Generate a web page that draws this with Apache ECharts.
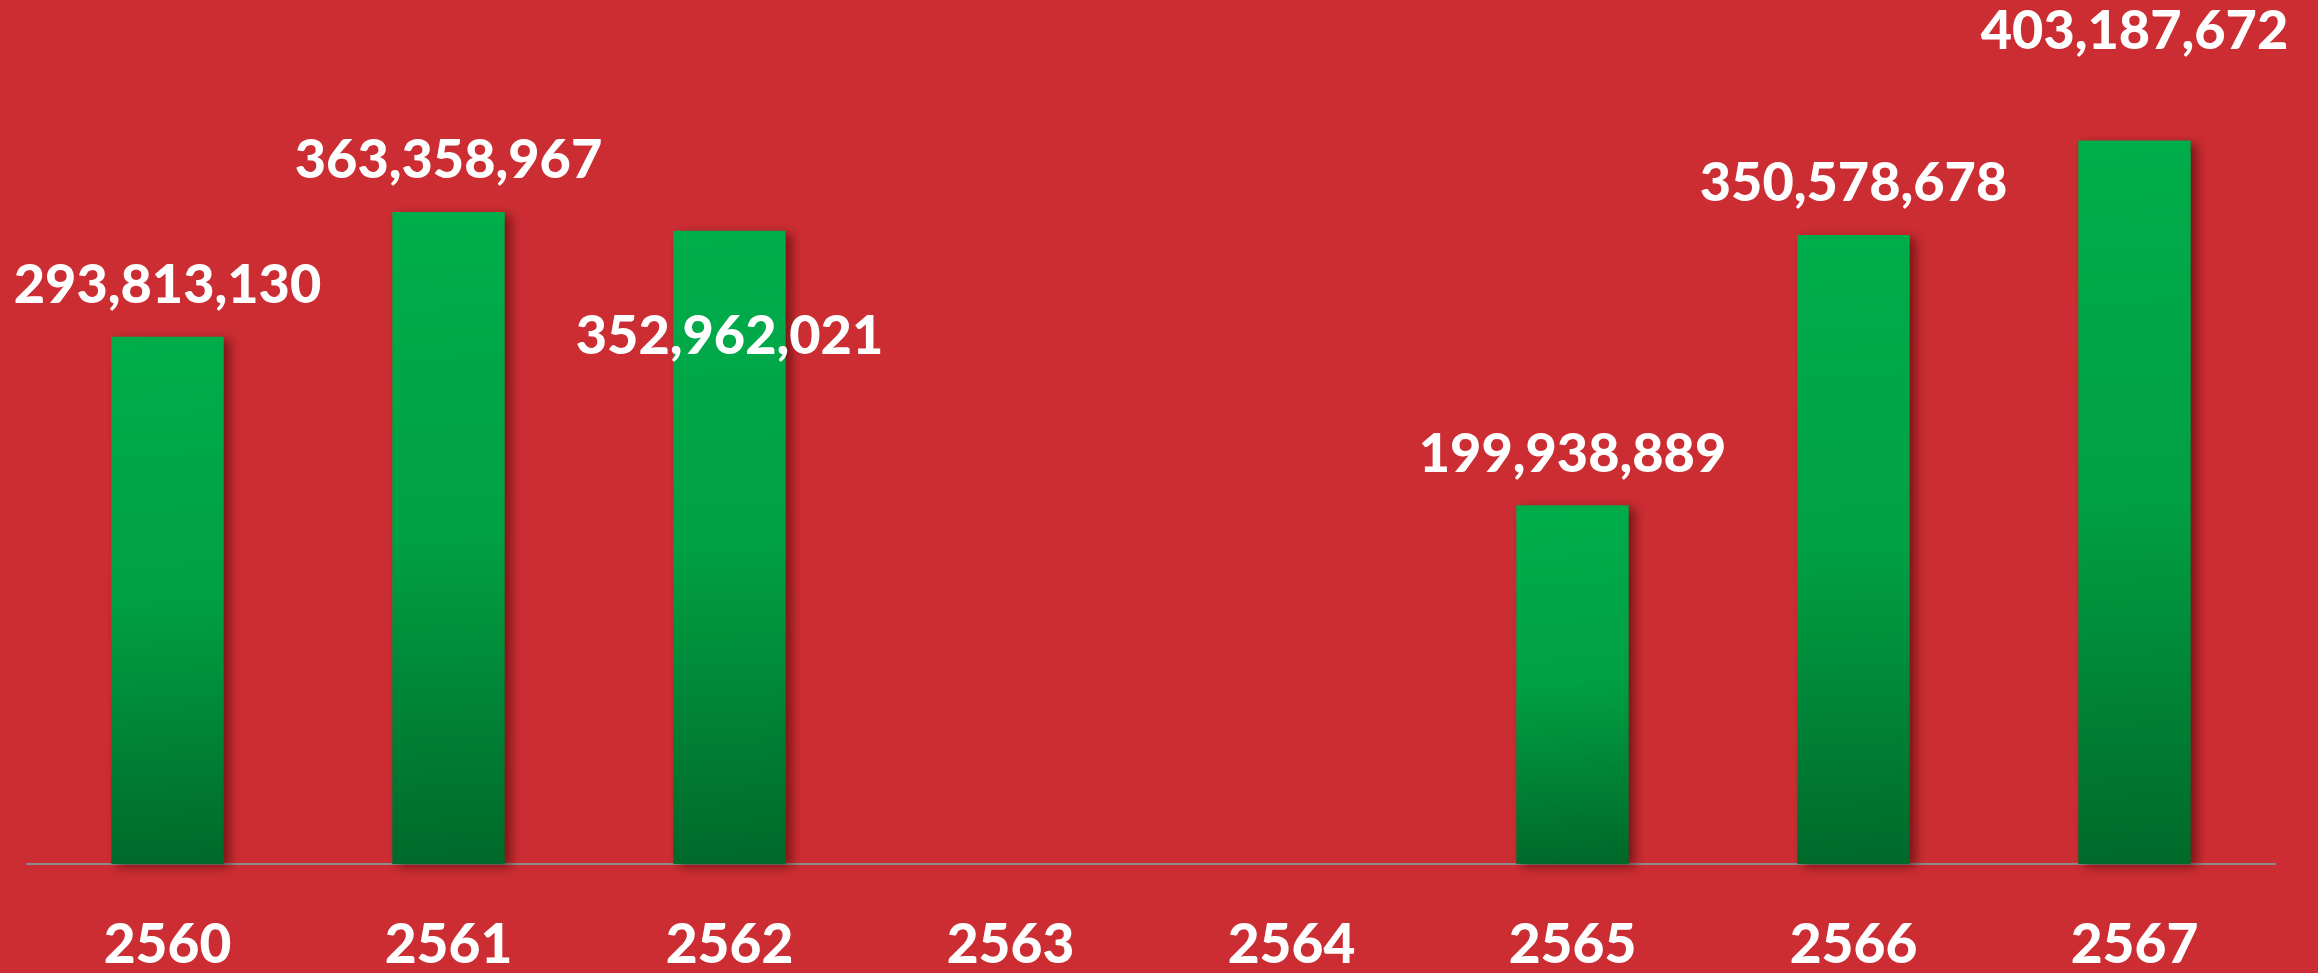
<!DOCTYPE html>
<html>
<head>
<meta charset="utf-8">
<script src="https://cdn.jsdelivr.net/npm/echarts@6/dist/echarts.min.js"></script>
<style>
  html, body { margin: 0; padding: 0; background: #CB2D32; }
  #chart { width: 2318px; height: 973px; }
</style>
</head>
<body>
<div id="chart"></div>
<script>
const years = ['2560', '2561', '2562', '2563', '2564', '2565', '2566', '2567'];
const amounts = [293813130, 363358967, 352962021, null, null, 199938889, 350578678, 403187672];

// label placement tweaks per bar (the reference puts a couple of labels off the usual spot)
const labelOffsets = [[0, 0], [0, 0], [0, 157], [0, 0], [0, 0], [0, 0], [0, 0], [0, -58]];

const fmt = v => v.toLocaleString('en-US');

const chart = echarts.init(document.getElementById('chart'));

const barData = amounts.map((v, i) => ({
  value: v,
  label: { offset: labelOffsets[i] }
}));

const option = {
  backgroundColor: '#CB2D32',
  animation: false,
  grid: {
    left: 27,
    right: 43,
    top: 0,
    bottom: 107,
    containLabel: false
  },
  xAxis: {
    type: 'category',
    data: years,
    axisLine: { lineStyle: { color: '#8C8C8C', width: 2 } },
    axisTick: { show: false },
    axisLabel: {
      color: '#FFFFFF',
      fontFamily: 'Lato',
      fontWeight: 900,
      fontSize: 55,
      margin: 54
    }
  },
  yAxis: {
    type: 'value',
    min: 0,
    max: 481500000,
    show: false,
    splitLine: { show: false }
  },
  series: [{
    type: 'bar',
    data: barData,
    barWidth: '40%',
    itemStyle: {
      color: new echarts.graphic.LinearGradient(0, 0, 0.25, 1, [
        { offset: 0, color: '#00AD4B' },
        { offset: 0.5, color: '#00A044' },
        { offset: 1, color: '#00692A' }
      ]),
      shadowColor: 'rgba(60, 0, 0, 0.55)',
      shadowBlur: 10,
      shadowOffsetX: 6,
      shadowOffsetY: 3
    },
    label: {
      show: true,
      position: 'top',
      distance: 24,
      color: '#FFFFFF',
      fontFamily: 'Lato',
      fontWeight: 900,
      fontSize: 54,
      formatter: p => fmt(p.value)
    }
  }]
};

chart.setOption(option);
</script>
</body>
</html>
